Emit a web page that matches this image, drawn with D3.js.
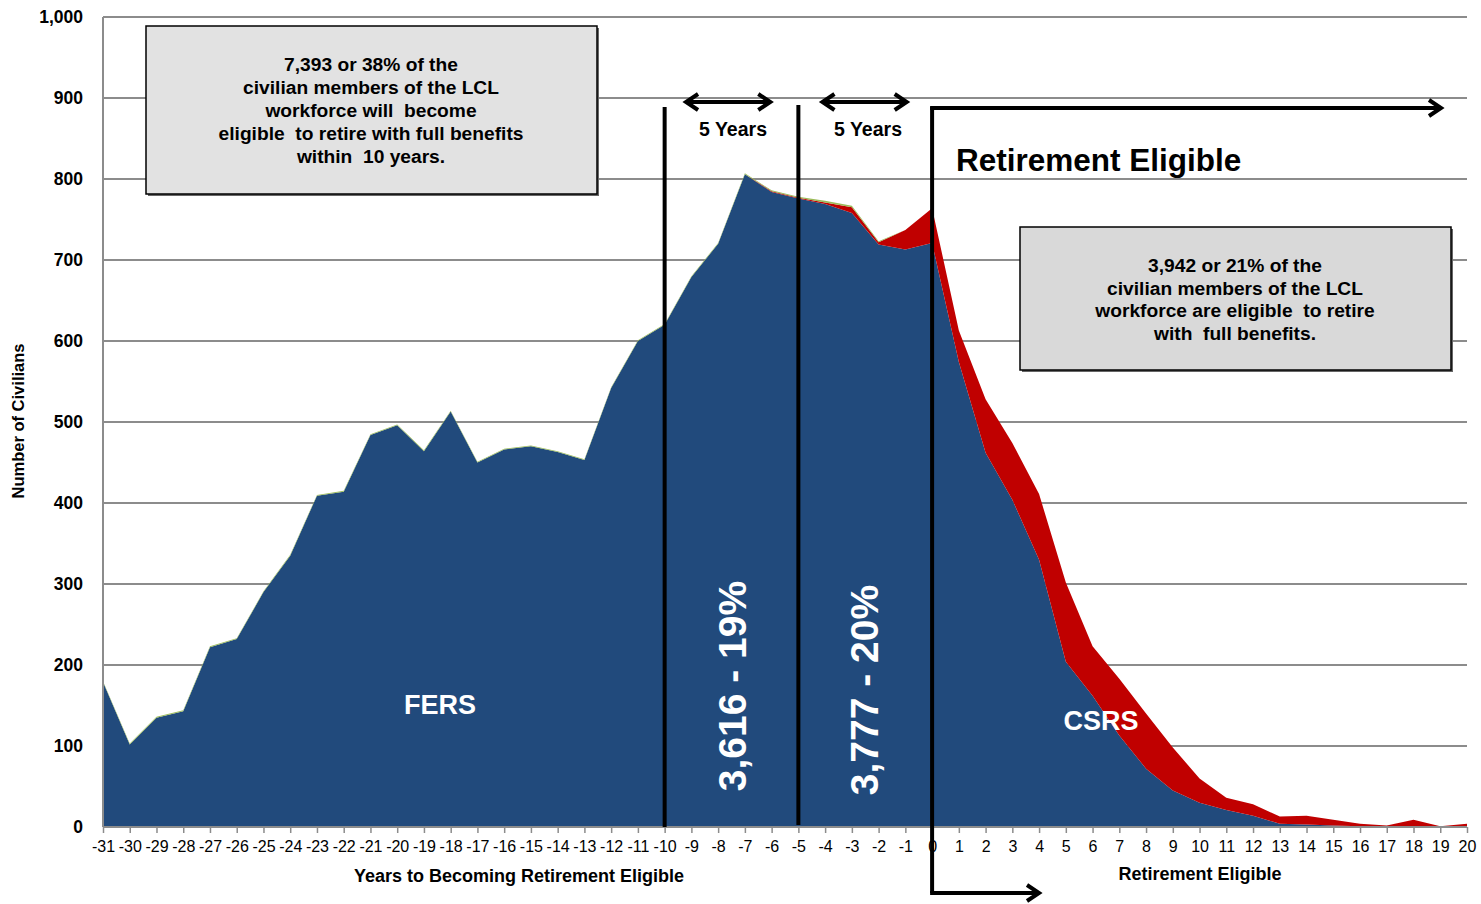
<!DOCTYPE html>
<html><head><meta charset="utf-8">
<script src="https://cdn.jsdelivr.net/npm/d3@7"></script>
<style>
html,body{margin:0;padding:0;background:#fff;}
svg{display:block;}
text{font-family:"Liberation Sans",Arial,sans-serif;white-space:pre;}
</style></head>
<body>
<svg id="chart" width="1481" height="904"></svg>
<script>
const years = d3.range(-31, 21);
const xTickLabels = years.map(String);
const fers = [179,102,135,143,222,232,290,335,409,414,484,496,464,513,450,466,470,463,453,542,600,620,679,720,806,784,776,769,758,719,713,721,
  574,462,404,330,204,162,113,72,45,30,21,14,4,3,2,1,1,1,0,1];
const csrs = [0,0,0,0,0,0,0,0,0,0,0,0,0,0,0,0,0,0,0,0,0,0,0,0,0,1,1,2,7,3,24,43,
  39,66,70,81,98,61,70,68,53,30,15,14,9,11,7,3,1,8,1,3];
const other = [1,1,1,1,1,1,1,1,1,1,1,1,1,1,1,1,1,1,1,1,1,1,1,1,1,1,1,2,2,1,0,0,
  0,0,0,0,0,0,0,0,0,0,0,0,0,0,0,0,0,0,0,0];
const yTicks = [0,100,200,300,400,500,600,700,800,900,1000];
const seriesKeys = ["FERS","CSRS","Other"];
const seriesColors = {FERS:"#214a7c", CSRS:"#c00000", Other:"#9bbb59"};

const rows = years.map((y,i)=>({year:y, FERS:fers[i], CSRS:csrs[i], Other:other[i]}));

const svg = d3.select("#chart");
const L=103, R=1467, T=17, B=827;
const x = d3.scaleLinear().domain([-31,20]).range([L,R]);
const y = d3.scaleLinear().domain([0,1000]).range([B,T]);

// gridlines
svg.append("g").selectAll("line").data(yTicks.filter(d=>d>0)).join("line")
  .attr("x1",L).attr("x2",R).attr("y1",d=>y(d)).attr("y2",d=>y(d))
  .attr("stroke","#8c8c8c").attr("stroke-width",2);

// stacked areas
const stack = d3.stack().keys(seriesKeys)(rows);
const area = d3.area().x(d=>x(d.data.year)).y0(d=>y(d[0])).y1(d=>y(d[1]));
svg.append("g").selectAll("path").data(stack).join("path")
  .attr("d",area).attr("fill",d=>seriesColors[d.key]);

// axes
svg.append("line").attr("x1",L).attr("x2",L).attr("y1",T).attr("y2",B).attr("stroke","#8c8c8c").attr("stroke-width",2);
svg.append("line").attr("x1",L).attr("x2",R).attr("y1",B).attr("y2",B).attr("stroke","#8c8c8c").attr("stroke-width",2);
const xAxis = d3.axisBottom(x).tickValues(years).tickSize(6).tickFormat((d,i)=>xTickLabels[i]);
const gx = svg.append("g").attr("transform",`translate(0,${B})`).call(xAxis);
gx.select(".domain").remove();
gx.selectAll(".tick line").attr("stroke","#8c8c8c").attr("stroke-width",1.5);
gx.selectAll(".tick text").attr("font-family","'Liberation Sans Narrow','Arial Narrow','Liberation Sans',sans-serif")
  .attr("font-size",16).attr("fill","#000").attr("dy","0.95em").attr("y",10);

const yAxis = d3.axisLeft(y).tickValues(yTicks).tickSize(0).tickFormat(d3.format(","));
const gy = svg.append("g").attr("transform",`translate(${L-17},0)`).call(yAxis);
gy.select(".domain").remove();
gy.selectAll(".tick text").attr("font-family","'DejaVu Sans',Verdana,sans-serif").attr("font-weight","bold")
  .attr("font-size",17.5).attr("fill","#000");

// axis titles
svg.append("text").attr("transform","translate(24,421) rotate(-90)").attr("text-anchor","middle")
  .attr("font-family","'Liberation Sans Narrow','Arial Narrow','Liberation Sans',sans-serif")
  .attr("font-weight","bold").attr("font-size",16.5).text("Number of Civilians");
svg.append("text").attr("x",519).attr("y",882).attr("text-anchor","middle")
  .attr("font-weight","bold").attr("font-size",18).text("Years to Becoming Retirement Eligible");
svg.append("text").attr("x",1200).attr("y",880).attr("text-anchor","middle")
  .attr("font-weight","bold").attr("font-size",18).text("Retirement Eligible");

// vertical markers
const ink = "#000";
[[-10,107,827],[-5,105,825]].forEach(([v,y1,y2])=>{
  svg.append("line").attr("x1",x(v)).attr("x2",x(v)).attr("y1",y1).attr("y2",y2).attr("stroke",ink).attr("stroke-width",4);
});
svg.append("line").attr("x1",x(0)).attr("x2",x(0)).attr("y1",107).attr("y2",893).attr("stroke",ink).attr("stroke-width",4);

function arrowHead(px,py,dir){
  svg.append("path").attr("d",`M${px-dir*12},${py-8} L${px},${py} L${px-dir*12},${py+8}`)
    .attr("fill","none").attr("stroke",ink).attr("stroke-width",4).attr("stroke-linejoin","miter");
}
svg.append("line").attr("x1",x(0)-2).attr("x2",1440).attr("y1",108).attr("y2",108).attr("stroke",ink).attr("stroke-width",4);
arrowHead(1441,108,1);
svg.append("line").attr("x1",x(0)-2).attr("x2",1038).attr("y1",893).attr("y2",893).attr("stroke",ink).attr("stroke-width",4);
arrowHead(1039,893,1);
[[x(-9.2),x(-6.05),733],[x(-4.1),x(-0.95),868]].forEach(([a,b,tx])=>{
  svg.append("line").attr("x1",a).attr("x2",b).attr("y1",102).attr("y2",102).attr("stroke",ink).attr("stroke-width",4);
  arrowHead(a,102,-1); arrowHead(b,102,1);
  svg.append("text").attr("x",tx).attr("y",136).attr("text-anchor","middle").attr("font-weight","bold")
    .attr("font-size",19.5).text("5 Years");
});

svg.append("text").attr("x",956).attr("y",171).attr("font-weight","bold").attr("font-size",31.5).text("Retirement Eligible");

// boxes
function box(x0,y0,w,h,fill,lines,cx,firstY,lh){
  svg.append("rect").attr("x",x0+2).attr("y",y0+2).attr("width",w).attr("height",h).attr("fill","#666");
  svg.append("rect").attr("x",x0).attr("y",y0).attr("width",w).attr("height",h).attr("fill",fill).attr("stroke","#000").attr("stroke-width",1.5);
  const t = svg.append("text").attr("text-anchor","middle").attr("font-weight","bold").attr("font-size",19.2);
  lines.forEach((s,i)=>t.append("tspan").attr("x",cx).attr("y",firstY+i*lh).text(s));
}
box(146,26,451,168,"#e2e2e2",["7,393 or 38% of the","civilian members of the LCL","workforce will  become","eligible  to retire with full benefits","within  10 years."],371,71,23);
box(1020,227,431,143,"#d9d9d9",["3,942 or 21% of the","civilian members of the LCL","workforce are eligible  to retire","with  full benefits."],1235,272,22.6);

function rot(tx,ty,s){
  svg.append("text").attr("transform",`translate(${tx},${ty}) rotate(-90)`).attr("text-anchor","middle")
    .attr("font-weight","bold").attr("font-size",39).attr("fill","#fff").text(s);
}
rot(746,686,"3,616 - 19%");
rot(878,690,"3,777 - 20%");
svg.append("text").attr("x",440).attr("y",714).attr("text-anchor","middle").attr("font-weight","bold").attr("font-size",27).attr("fill","#fff").text("FERS");
svg.append("text").attr("x",1101).attr("y",730).attr("text-anchor","middle").attr("font-weight","bold").attr("font-size",27).attr("fill","#fff").text("CSRS");
</script>
</body></html>
